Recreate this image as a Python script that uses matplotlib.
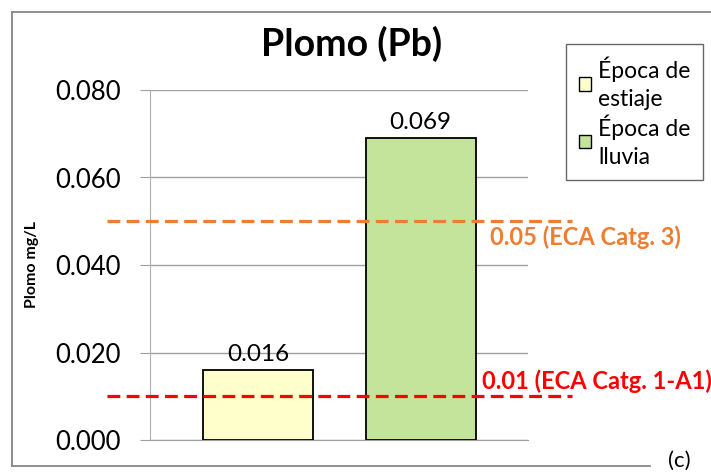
import matplotlib
matplotlib.use("Agg")
import matplotlib.pyplot as plt
from matplotlib.patches import Patch
from matplotlib.lines import Line2D

plt.rcParams['font.family'] = ['Lato', 'DejaVu Sans']

# data
epocas = ["Época de\nestiaje", "Época de\nlluvia"]
plomo = [0.016, 0.069]
colores = ["#FFFFCC", "#C4E39B"]
eca_valores = [0.05, 0.01]
eca_textos = ["0.05 (ECA Catg. 3)", "0.01 (ECA Catg. 1-A1)"]
eca_colores = ["#ED7D31", "#FF0000"]
yticks = [0.0, 0.02, 0.04, 0.06, 0.08]

W, H = 711, 473
fig = plt.figure(figsize=(W / 100, H / 100), dpi=100)
ax = fig.add_axes([150 / W, 33 / H, 378 / W, 350 / H])

x = [0, 1]
bars = ax.bar(x, plomo, width=0.677, color=colores, edgecolor="black", linewidth=1.3, zorder=3)
for xi, v in zip(x, plomo):
    ax.text(xi, v + 0.0012, f"{v:.3f}", ha="center", va="bottom", fontsize=17.5, zorder=4)

ax.set_xlim(-0.665, 1.66)
ax.set_ylim(0, 0.08)
ax.set_yticks(yticks)
ax.set_yticklabels([f"{t:.3f}" for t in yticks], fontsize=18.5)
ax.set_xticks([])
ax.grid(axis="y", color="#a0a0a0", linewidth=1, zorder=0)
for s in ["top", "right"]:
    ax.spines[s].set_visible(False)
ax.spines["left"].set_color("#b0b0b0")
ax.spines["bottom"].set_color("#a0a0a0")
ax.tick_params(axis="y", length=7, color="#a0a0a0", pad=14)
ax.set_ylabel("Plomo mg/L", fontsize=11.5, fontweight="bold", labelpad=12)

# lineas ECA
text_pos = [(1.428, 0.0464), (1.378, 0.0135)]
for val, txt, col, (tx, ty) in zip(eca_valores, eca_textos, eca_colores, text_pos):
    ax.plot([-0.929, 1.932], [val, val], color=col, linewidth=2.3,
            dashes=(4, 2), clip_on=False, zorder=5)
    ax.text(tx, ty, txt, color=col, fontsize=17, fontweight="bold",
            ha="left", va="center", clip_on=False)

fig.text(352 / W, 1 - 44 / H, "Plomo (Pb)", ha="center", va="center",
         fontsize=27, fontweight="bold")

handles = [Patch(facecolor=c, edgecolor="black", linewidth=1) for c in colores]
leg = fig.legend(handles, epocas, loc="upper left", bbox_to_anchor=(566 / W, 1 - 44 / H),
                 fontsize=16.5, frameon=True, fancybox=False, edgecolor="#404040",
                 handlelength=0.55, handleheight=0.55, handletextpad=0.3,
                 borderpad=0.55, labelspacing=0.2, borderaxespad=0)
leg.get_frame().set_linewidth(1)
for t in leg.get_texts():
    t.set_linespacing(1.4)

# marco exterior
fc = "#888888"
fig.add_artist(Line2D([12 / W, 1], [1 - 12 / H, 1 - 12 / H], color=fc, linewidth=1.3))
fig.add_artist(Line2D([12 / W, 12 / W], [1 - 12 / H, 1 - 466 / H], color=fc, linewidth=1.3))
fig.add_artist(Line2D([12 / W, 650 / W], [1 - 466 / H, 1 - 466 / H], color=fc, linewidth=1.3))
fig.text(668 / W, 1 - 461 / H, "(c)", ha="left", va="center", fontsize=16)

fig.savefig("out.png", dpi=100)
